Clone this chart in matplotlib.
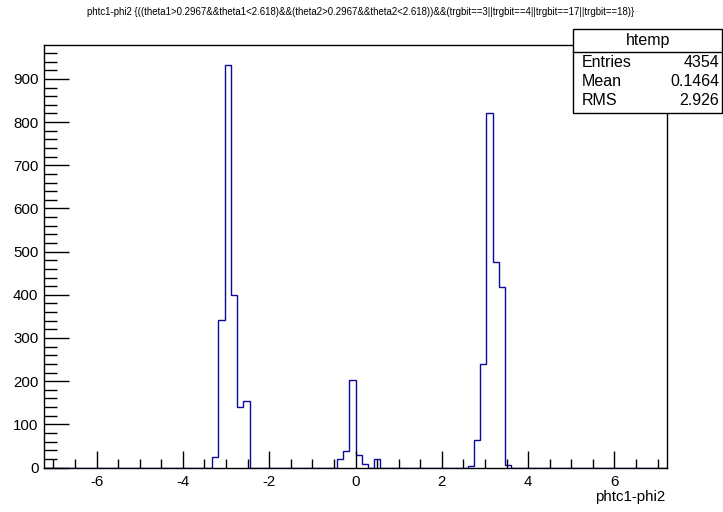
import numpy as np
import matplotlib
matplotlib.use("Agg")
import matplotlib.pyplot as plt
from matplotlib.patches import Rectangle
from matplotlib.lines import Line2D
from matplotlib.ticker import MultipleLocator

plt.rcParams['font.family'] = ['Liberation Sans', 'DejaVu Sans']
plt.rcParams['axes.unicode_minus'] = False

# Histogram definition: 100 bins over [-7.22, 7.22]
x_low, x_high, n_bins = -7.22, 7.22, 100
# Non-empty bins (bin index -> entries)
bin_index = [27, 28, 29, 30, 31, 32,
             47, 48, 49, 50, 51, 53,
             68, 69, 70, 71, 72, 73, 74]
bin_counts = [24, 342, 932, 400, 141, 154,
              19, 39, 202, 30, 7, 19,
              3, 64, 240, 820, 477, 419, 6]

title = ("phtc1-phi2 {((theta1>0.2967&&theta1<2.618)&&(theta2>0.2967&&theta2<2.618))"
         "&&(trgbit==3||trgbit==4||trgbit==17||trgbit==18)}")
x_title = "phtc1-phi2"
stats_name = "htemp"
stats_rows = [("Entries", "4354"), ("Mean", "0.1464"), ("RMS", "2.926")]

edges = np.linspace(x_low, x_high, n_bins + 1)
counts = np.zeros(n_bins)
counts[bin_index] = bin_counts

W, H = 723, 512
fig = plt.figure(figsize=(W / 100, H / 100), dpi=100)


def fx(px):
    return px / W


def fy(py):
    return 1 - py / H


ax = fig.add_axes([fx(44), fy(467.5), fx(667) - fx(44), fy(45) - fy(467.5)])
ax.stairs(counts, edges, color='#0a0a9c', linewidth=1.0, baseline=0)
ax.set_xlim(x_low, x_high)
ax.set_ylim(0, counts.max() * 1.05)

for s in ax.spines.values():
    s.set_linewidth(1.0)
    s.set_color('black')

ax.xaxis.set_major_locator(MultipleLocator(2))
ax.xaxis.set_minor_locator(MultipleLocator(0.5))
ax.yaxis.set_major_locator(MultipleLocator(100))
ax.yaxis.set_minor_locator(MultipleLocator(20))
ax.tick_params(axis='both', which='both', direction='in', top=False, right=False,
               width=1.0, labelsize=10.8, colors='black')
ax.tick_params(axis='x', which='major', length=12.5, pad=5.5)
ax.tick_params(axis='x', which='minor', length=6.5)
ax.tick_params(axis='y', which='major', length=18, pad=4)
ax.tick_params(axis='y', which='minor', length=9)

# Axis title, right-aligned under the axis end
fig.text(fx(665), fy(497), x_title, ha='right', va='center', fontsize=10.8)

# Histogram title
fig.text(fx(361), fy(12), title, ha='center', va='center', fontsize=6.9)

# Statistics box
bx0, bx1, by0, by1, byh = 573.3, 722.0, 29.3, 112.7, 51.7
fig.patches.append(Rectangle((fx(bx0), fy(by1)), fx(bx1) - fx(bx0), fy(by0) - fy(by1),
                             transform=fig.transFigure, facecolor='white',
                             edgecolor='black', linewidth=1.0, zorder=5))
fig.lines.append(Line2D([fx(bx0), fx(bx1)], [fy(byh), fy(byh)], transform=fig.transFigure,
                        color='black', linewidth=1.0, zorder=6))
fig.text(fx((bx0 + bx1) / 2), fy(40.5), stats_name, ha='center', va='center',
         fontsize=11.5, zorder=7)
row_y = [62.3, 81.7, 100.5]
for (name, val), yy in zip(stats_rows, row_y):
    fig.text(fx(581.5), fy(yy), name, ha='left', va='center', fontsize=11.5, zorder=7)
    fig.text(fx(719.5), fy(yy), val, ha='right', va='center', fontsize=11.5, zorder=7)

fig.savefig("out.png", dpi=100, facecolor='white')
